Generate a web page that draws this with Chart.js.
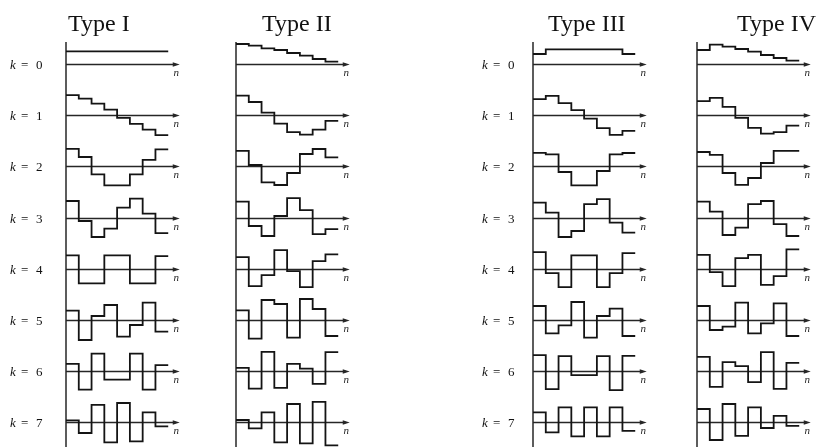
<!DOCTYPE html>
<html>
<head>
<meta charset="utf-8">
<script src="https://cdn.jsdelivr.net/npm/chart.js@4.4.0/dist/chart.umd.min.js"></script>
<style>
  body { margin: 0; background: #fff; }
  #wrap { position: relative; width: 828px; height: 447px; overflow: hidden; }
  canvas { position: absolute; top: 0; }
</style>
</head>
<body>
<div id="wrap">
  <canvas id="c0" width="195" height="447" style="left:0px"></canvas>
  <canvas id="c1" width="225" height="447" style="left:195px"></canvas>
  <canvas id="c2" width="230" height="447" style="left:420px"></canvas>
  <canvas id="c3" width="178" height="447" style="left:650px"></canvas>
</div>
<script>
// sample index n and basis index k
const n = [0, 1, 2, 3, 4, 5, 6, 7];
const kValues = [0, 1, 2, 3, 4, 5, 6, 7];
const typeNames = ['Type I', 'Type II', 'Type III', 'Type IV'];

// values, one row per k (amplitude ~1)
const typeI = [
  [0.63, 0.63, 0.63, 0.63, 0.63, 0.63, 0.63, 0.63],
  [1.0, 0.83, 0.58, 0.28, -0.13, -0.43, -0.72, -1.0],
  [0.88, 0.47, -0.4, -0.95, -0.95, -0.4, 0.33, 0.85],
  [0.83, -0.17, -0.97, -0.55, 0.5, 0.95, 0.2, -0.78],
  [0.67, -0.73, -0.73, 0.67, 0.67, -0.73, -0.73, 0.63],
  [0.47, -1.0, 0.2, 0.75, -0.83, -0.25, 0.87, -0.58],
  [0.37, -0.92, 0.88, -0.42, -0.42, 0.88, -0.92, 0.3],
  [0.1, -0.53, 0.88, -1.0, 0.97, -0.95, 0.5, -0.2]
];
const typeII = [
  [1.0, 0.92, 0.78, 0.7, 0.55, 0.42, 0.25, 0.12],
  [0.98, 0.66, 0.13, -0.42, -0.85, -0.97, -0.72, -0.28],
  [0.78, 0.07, -0.8, -0.93, -0.33, 0.62, 0.87, 0.45],
  [0.8, -0.42, -0.92, 0.08, 0.97, 0.37, -0.83, -0.58],
  [0.58, -0.87, -0.32, 0.93, -0.12, -0.92, 0.38, 0.72],
  [0.48, -0.93, 1.0, 0.8, -0.88, 1.05, 0.55, -0.8],
  [0.17, -0.87, 0.97, -0.83, 0.37, 0.13, -0.63, 0.95],
  [0.12, -0.3, 0.5, -1.0, 0.92, -1.05, 1.03, -1.15]
];
const typeIII = [
  [0.5, 0.73, 0.73, 0.73, 0.73, 0.73, 0.73, 0.5],
  [0.8, 0.97, 0.6, 0.25, -0.17, -0.65, -0.98, -0.78],
  [0.68, 0.6, -0.28, -0.95, -0.95, -0.23, 0.6, 0.67],
  [0.75, 0.25, -0.97, -0.67, 0.67, 0.92, -0.25, -0.75],
  [0.83, -0.22, -0.92, 0.67, 0.67, -0.92, -0.22, 0.78],
  [0.7, -0.67, -0.27, 0.9, -0.88, 0.2, 0.57, -0.8],
  [0.8, -0.9, 0.75, -0.2, -0.2, 0.75, -0.95, 0.77],
  [0.5, -0.5, 0.75, -0.7, 0.75, -0.7, 0.75, -0.42]
];
const typeIV = [
  [0.7, 0.97, 0.87, 0.75, 0.62, 0.45, 0.3, 0.17],
  [0.7, 0.87, 0.42, -0.13, -0.63, -0.92, -0.85, -0.52],
  [0.72, 0.58, -0.33, -0.92, -0.58, 0.17, 0.78, 0.78],
  [0.8, 0.3, -0.87, -0.5, 0.67, 0.83, -0.33, -0.92],
  [0.7, -0.17, -0.87, 0.53, 0.7, -0.8, -0.37, 0.97],
  [0.7, -0.5, -0.33, 0.87, -0.67, -0.17, 0.83, -0.8],
  [0.72, -0.78, 0.45, 0.25, -0.55, 0.95, -0.88, 0.42],
  [0.67, -0.88, 0.92, -0.67, 0.75, -0.28, 0.33, -0.17]
];
const allTypes = [typeI, typeII, typeIII, typeIV];

// layout
const ROW_GAP = 2.56;      // vertical distance between rows, in value units
const AXIS_END = 8.9;      // where the n-axis arrow ends
const panels = [
  { pad: [66, 14], titleDx: 2, kDx: 56 },
  { pad: [41, 69], titleDx: 26, kDx: 0 },
  { pad: [113, 2], titleDx: 15, kDx: 51 },
  { pad: [47, 16], titleDx: 40, kDx: 0 }
];
const INK = '#141414';

const axesPlugin = {
  id: 'axes',
  beforeDatasetsDraw(chart, args, opts) {
    const { ctx, chartArea, scales: { x, y } } = chart;
    const x0 = x.getPixelForValue(0);
    ctx.save();
    ctx.strokeStyle = '#262626';
    ctx.fillStyle = '#262626';
    ctx.lineWidth = 1.5;
    // vertical axis
    ctx.beginPath();
    ctx.moveTo(x0, chartArea.top);
    ctx.lineTo(x0, chartArea.bottom);
    ctx.stroke();
    kValues.forEach(k => {
      const yb = Math.round(y.getPixelForValue(-k * ROW_GAP)) + 0.5;
      const xe = x.getPixelForValue(AXIS_END);
      ctx.lineWidth = 1.3;
      ctx.beginPath();
      ctx.moveTo(x0, yb);
      ctx.lineTo(xe - 4, yb);
      ctx.stroke();
      ctx.beginPath();
      ctx.moveTo(xe, yb);
      ctx.lineTo(xe - 7, yb - 2.3);
      ctx.lineTo(xe - 7, yb + 2.3);
      ctx.closePath();
      ctx.fill();
      ctx.font = 'italic 11px "Liberation Serif"';
      ctx.textAlign = 'center';
      ctx.textBaseline = 'middle';
      ctx.fillText('n', x.getPixelForValue(8.62), yb + 9);
      if (opts.kDx) {
        const xl = x0 - opts.kDx;
        ctx.fillStyle = '#111';
        ctx.textAlign = 'left';
        ctx.font = 'italic 13px "Liberation Serif"';
        ctx.fillText('k', xl, yb + 1);
        ctx.font = '13px "Liberation Serif"';
        ctx.fillText('=', xl + 11, yb + 1);
        ctx.fillText(String(k), xl + 26, yb + 1);
        ctx.fillStyle = '#262626';
      }
    });
    // column title
    ctx.font = '24px "Liberation Serif"';
    ctx.textAlign = 'left';
    ctx.textBaseline = 'alphabetic';
    ctx.fillStyle = '#111';
    ctx.fillText(opts.title, x0 + opts.titleDx, 31);
    ctx.restore();
  }
};

allTypes.forEach((rows, ti) => {
  const p = panels[ti];
  const datasets = rows.map((vals, k) => {
    const pts = n.map(i => ({ x: i, y: vals[i] - k * ROW_GAP }));
    pts.push({ x: n.length, y: vals[vals.length - 1] - k * ROW_GAP });
    return {
      label: typeNames[ti] + ' k=' + k,
      data: pts,
      stepped: true,
      borderColor: INK,
      borderWidth: 1.8,
      pointRadius: 0,
      fill: false
    };
  });
  new Chart(document.getElementById('c' + ti), {
    type: 'line',
    data: { datasets: datasets },
    options: {
      responsive: false,
      animation: false,
      layout: { padding: { left: p.pad[0], right: p.pad[1], top: 42, bottom: 0 } },
      scales: {
        x: { type: 'linear', min: 0, max: 9, display: false },
        y: { type: 'linear', min: -19.15, max: 1.1, display: false }
      },
      plugins: {
        legend: { display: false },
        tooltip: { enabled: false },
        axes: { title: typeNames[ti], titleDx: p.titleDx, kDx: p.kDx }
      }
    },
    plugins: [axesPlugin]
  });
});
</script>
</body>
</html>
